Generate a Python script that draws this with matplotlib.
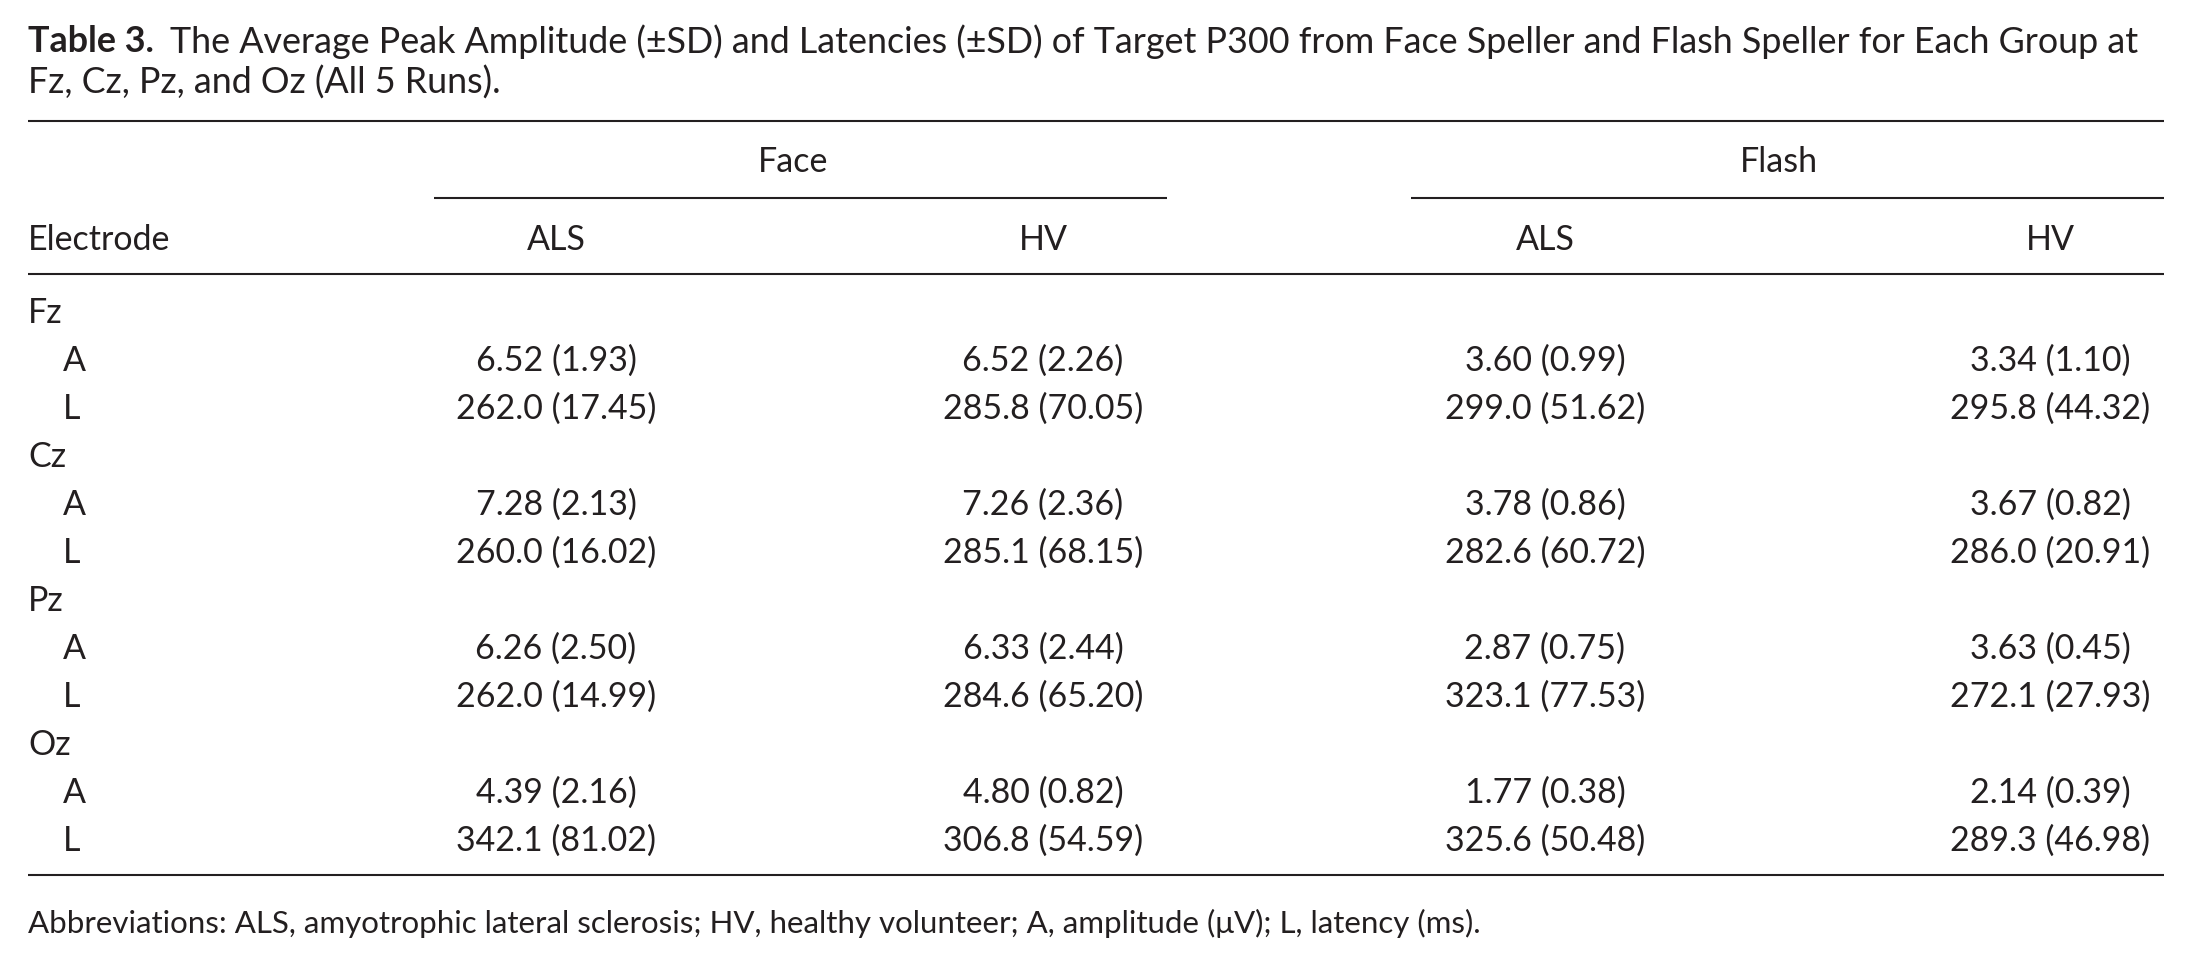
import matplotlib
matplotlib.use('Agg')
import matplotlib.pyplot as plt

# Table data: mean (SD) per electrode
electrodes = ['Fz', 'Cz', 'Pz', 'Oz']
groups = ['ALS', 'HV', 'ALS', 'HV']
spellers = ['Face', 'Flash']

face_als_amp = [6.52, 7.28, 6.26, 4.39]
face_als_amp_sd = [1.93, 2.13, 2.50, 2.16]
face_als_lat = [262.0, 260.0, 262.0, 342.1]
face_als_lat_sd = [17.45, 16.02, 14.99, 81.02]

face_hv_amp = [6.52, 7.26, 6.33, 4.80]
face_hv_amp_sd = [2.26, 2.36, 2.44, 0.82]
face_hv_lat = [285.8, 285.1, 284.6, 306.8]
face_hv_lat_sd = [70.05, 68.15, 65.20, 54.59]

flash_als_amp = [3.60, 3.78, 2.87, 1.77]
flash_als_amp_sd = [0.99, 0.86, 0.75, 0.38]
flash_als_lat = [299.0, 282.6, 323.1, 325.6]
flash_als_lat_sd = [51.62, 60.72, 77.53, 50.48]

flash_hv_amp = [3.34, 3.67, 3.63, 2.14]
flash_hv_amp_sd = [1.10, 0.82, 0.45, 0.39]
flash_hv_lat = [295.8, 286.0, 272.1, 289.3]
flash_hv_lat_sd = [44.32, 20.91, 27.93, 46.98]

title_bold = 'Table 3.'
title_1 = ('The Average Peak Amplitude (\u00b1SD) and Latencies (\u00b1SD) of Target P300 '
           'from Face Speller and Flash Speller for Each Group at')
title_2 = 'Fz, Cz, Pz, and Oz (All 5 Runs).'
footnote = ('Abbreviations: ALS, amyotrophic lateral sclerosis; HV, healthy volunteer; '
            'A, amplitude (\u03bcV); L, latency (ms).')

W, H = 2189, 962
FONT = 'Lato'
INK = '#231f20'

fig = plt.figure(figsize=(W / 100, H / 100), dpi=100)
ax = fig.add_axes([0, 0, 1, 1])
ax.set_xlim(0, W)
ax.set_ylim(H, 0)
ax.axis('off')

def txt(x, y, s, ha='left', weight='normal', fs=24.5):
    return ax.text(x, y + 3, s, ha=ha, va='center', fontsize=fs, family=FONT,
                   color=INK, fontweight=weight)

def rule(x0, x1, y):
    ax.plot([x0, x1], [y + 1, y + 1], color=INK, lw=1.5, solid_capstyle='butt')

left, right = 28, 2164

# title
t = txt(left, 39, title_bold, weight='bold', fs=25.8)
fig.canvas.draw()
bb = t.get_window_extent()
txt(bb.x1 + 16, 39, title_1, fs=25.8)
txt(left, 80, title_2, fs=25.8)

rule(left, right, 121)

# spanner headers
col_x = [556, 1043, 1545, 2050]
txt(793, 159, spellers[0], ha='center')
txt(1779, 159, spellers[1], ha='center')
rule(434, 1167, 198)
rule(1411, right, 198)

txt(left, 237, 'Electrode')
for x, g in zip(col_x, groups):
    txt(x, 237, g, ha='center')
rule(left, right, 274)

cols_amp = [(face_als_amp, face_als_amp_sd), (face_hv_amp, face_hv_amp_sd),
            (flash_als_amp, flash_als_amp_sd), (flash_hv_amp, flash_hv_amp_sd)]
cols_lat = [(face_als_lat, face_als_lat_sd), (face_hv_lat, face_hv_lat_sd),
            (flash_als_lat, flash_als_lat_sd), (flash_hv_lat, flash_hv_lat_sd)]

y0, step = 310, 48
for i, e in enumerate(electrodes):
    ye = y0 + 3 * i * step
    txt(left, ye, e)
    txt(63, ye + step, 'A')
    txt(63, ye + 2 * step, 'L')
    for x, (m, s) in zip(col_x, cols_amp):
        txt(x, ye + step, f'{m[i]:.2f} ({s[i]:.2f})', ha='center')
    for x, (m, s) in zip(col_x, cols_lat):
        txt(x, ye + 2 * step, f'{m[i]:.1f} ({s[i]:.2f})', ha='center')

rule(left, right, 875)
txt(left, 920, footnote, fs=22.5)

fig.savefig('out.png', dpi=100, facecolor='white')
